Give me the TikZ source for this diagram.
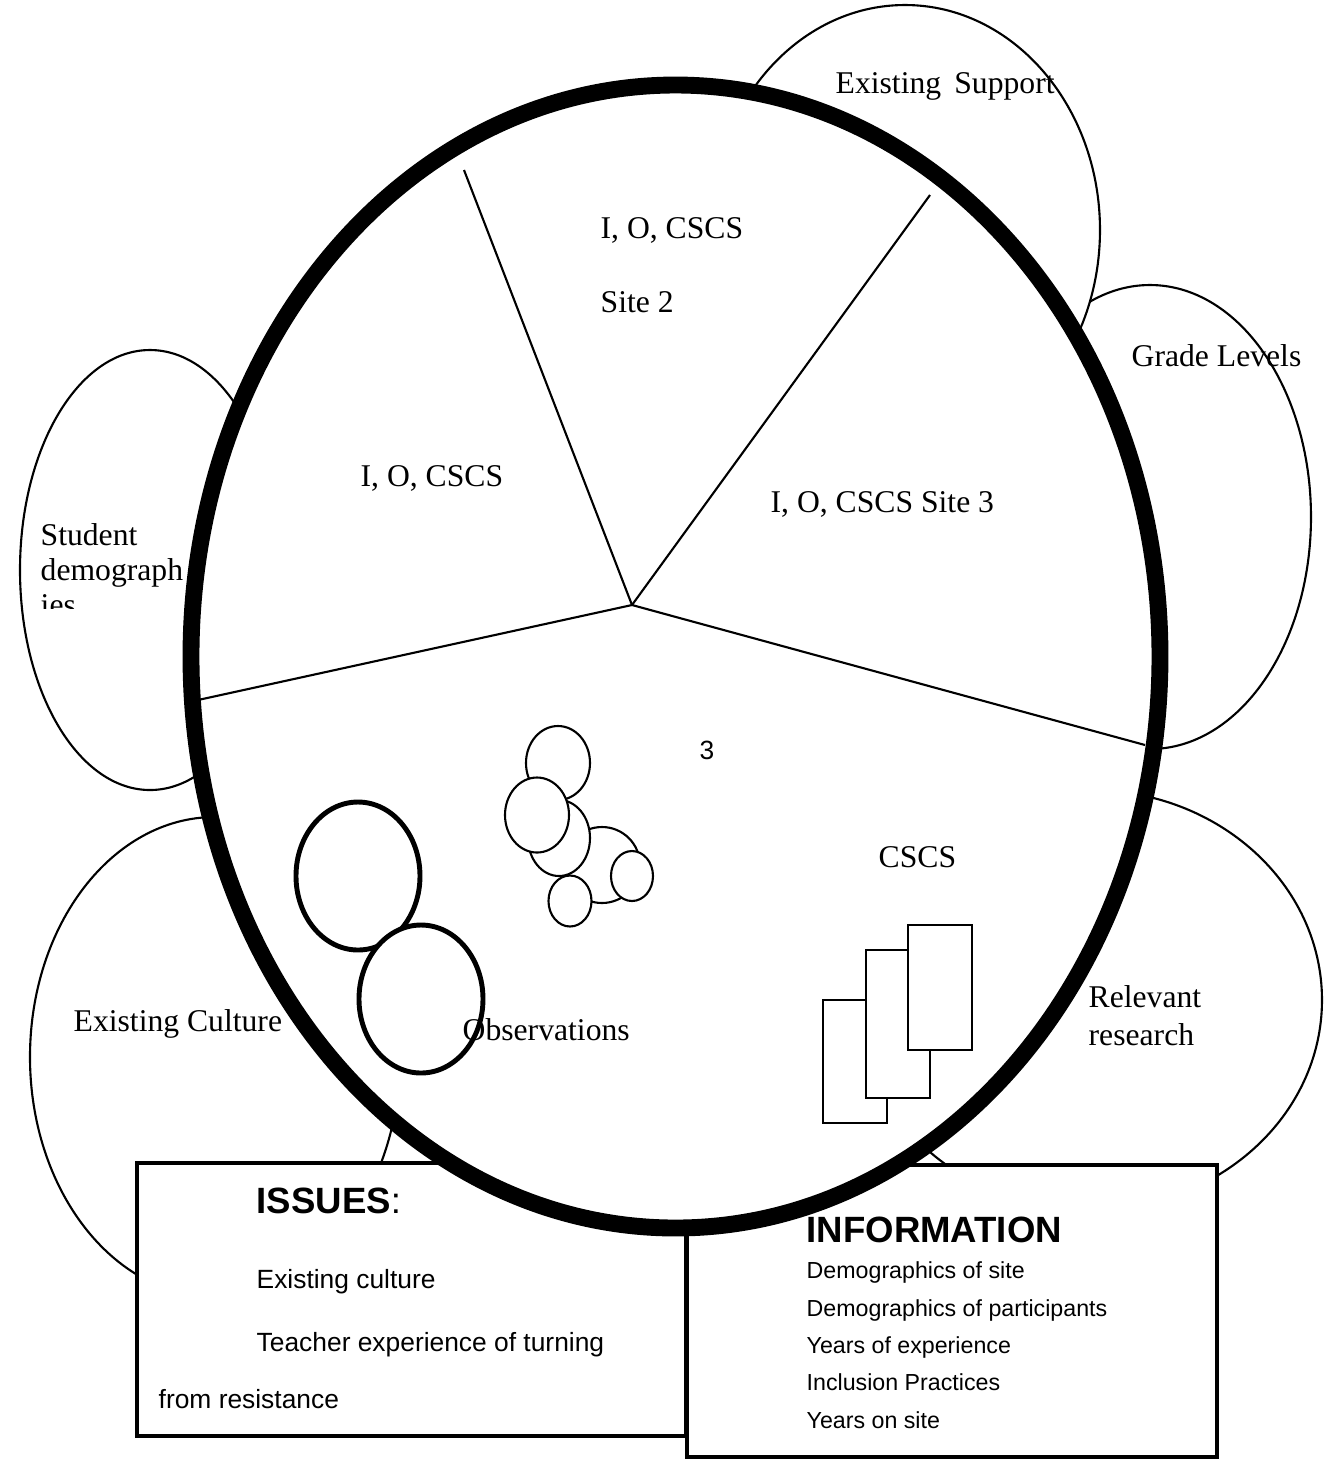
\documentclass[tikz,border=0pt]{standalone}
\usepackage{fontspec}
\setmainfont{Liberation Serif}
\setsansfont{Liberation Sans}
\begin{document}
\begin{tikzpicture}[x=0.01cm, y=-0.01cm]

\tikzstyle{sat}=[draw, fill=white, line width=0.6pt];
\tikzstyle{rim}=[draw, fill=white, line width=4.8pt];
\tikzstyle{cut}=[line width=0.6pt];
\tikzstyle{bub}=[draw, fill=white, line width=0.6pt];
\tikzstyle{obs}=[draw, fill=white, line width=1.4pt];
\tikzstyle{card}=[draw, fill=white, line width=0.6pt];
\tikzstyle{box}=[draw, fill=white, line width=1.4pt];
\tikzstyle{lab}=[font=\fontsize{9}{11}\selectfont, inner sep=0pt, anchor=base west];
\tikzstyle{hd}=[font=\sffamily\fontsize{10.4}{12}\selectfont, inner sep=0pt, anchor=base west];
\tikzstyle{issue}=[font=\sffamily\fontsize{7.5}{9}\selectfont, inner sep=0pt, anchor=base west];
\tikzstyle{info}=[font=\sffamily\fontsize{6.6}{8}\selectfont, inner sep=0pt, anchor=base west];

\useasboundingbox (0,0) rectangle (1327,1462);

% outer ellipses
\draw[sat] (1150,517) ellipse [x radius=161, y radius=232];
\draw[sat] (905,230) ellipse [x radius=195, y radius=225];
\draw[sat] (150,570) ellipse [x radius=130, y radius=220];
\draw[sat] (215,1057) ellipse [x radius=185, y radius=240];
\draw[sat] (1090,1000) ellipse [x radius=232, y radius=210];

% boxes
\draw[box] (137,1163) rectangle (686,1436);
\draw[box] (687,1165) rectangle (1217,1457);

% big ellipse
\draw[rim] (675.5,656.5) ellipse [x radius=484.5, y radius=571.5];

\coordinate (hub) at (632,605);
\coordinate (nw) at (464,170);
\coordinate (ne) at (930,195);
\coordinate (w) at (198,700);
\coordinate (e) at (1145,745);
\draw[cut] (hub) -- (nw);
\draw[cut] (hub) -- (ne);
\draw[cut] (hub) -- (w);
\draw[cut] (hub) -- (e);

% small bubbles
\draw[bub] (602,865) ellipse [x radius=38, y radius=38];
\draw[bub] (559,838) ellipse [x radius=31, y radius=38];
\draw[bub] (558,763) ellipse [x radius=32, y radius=37];
\draw[bub] (537,815) ellipse [x radius=32, y radius=37.5];
\draw[bub] (632,876) ellipse [x radius=21, y radius=25];
\draw[bub] (570,901) ellipse [x radius=21.5, y radius=25.5];

% observation rings
\draw[obs] (358,876) ellipse [x radius=62, y radius=74];
\draw[obs] (421,999) ellipse [x radius=62, y radius=74];

% cards
\draw[card] (823,1000) rectangle (887,1123);
\draw[card] (866,950) rectangle (930,1098);
\draw[card] (908,925) rectangle (972,1050);

% labels
\node[lab] (sup) at (835,93) {Existing\, Support};
\node[lab] (s2a) at (600,238) {I, O, CSCS};
\node[lab] (s2b) at (600,312) {Site 2};
\node[lab] (s1) at (360,486) {I, O, CSCS};
\node[lab] (s3) at (770,512) {I, O, CSCS Site 3};
\node[lab] (grade) at (1131,366) {Grade Levels};
\node[lab] (stud1) at (40,545) {Student};
\node[lab] (stud2) at (40,580) {demograph};
\begin{scope}
\clip (0,500) rectangle (300,608);
\node[lab] (stud3) at (40,615) {ies};
\end{scope}
\node[issue] (three) at (699,759) {3};
\node[lab] (cscs) at (878,867) {CSCS};
\node[lab] (obsl) at (462,1040) {Observations};
\node[lab] (cult) at (73,1031) {Existing Culture};
\node[lab] (rel1) at (1088,1007) {Relevant};
\node[lab] (rel2) at (1088,1045) {research};

\node[hd] (iss) at (256,1213) {\textbf{ISSUES}:};
\node[issue] (iss1) at (256,1288) {Existing culture};
\node[issue] (iss2) at (256,1351) {Teacher experience of turning};
\node[issue] (iss3) at (158,1408) {from resistance};

\node[hd] (inf) at (806,1242) {\textbf{INFORMATION}};
\node[info] (inf1) at (806,1278) {Demographics of site};
\node[info] (inf2) at (806,1316) {Demographics of participants};
\node[info] (inf3) at (806,1353) {Years of experience};
\node[info] (inf4) at (806,1390) {Inclusion Practices};
\node[info] (inf5) at (806,1428) {Years on site};
\end{tikzpicture}
\end{document}
